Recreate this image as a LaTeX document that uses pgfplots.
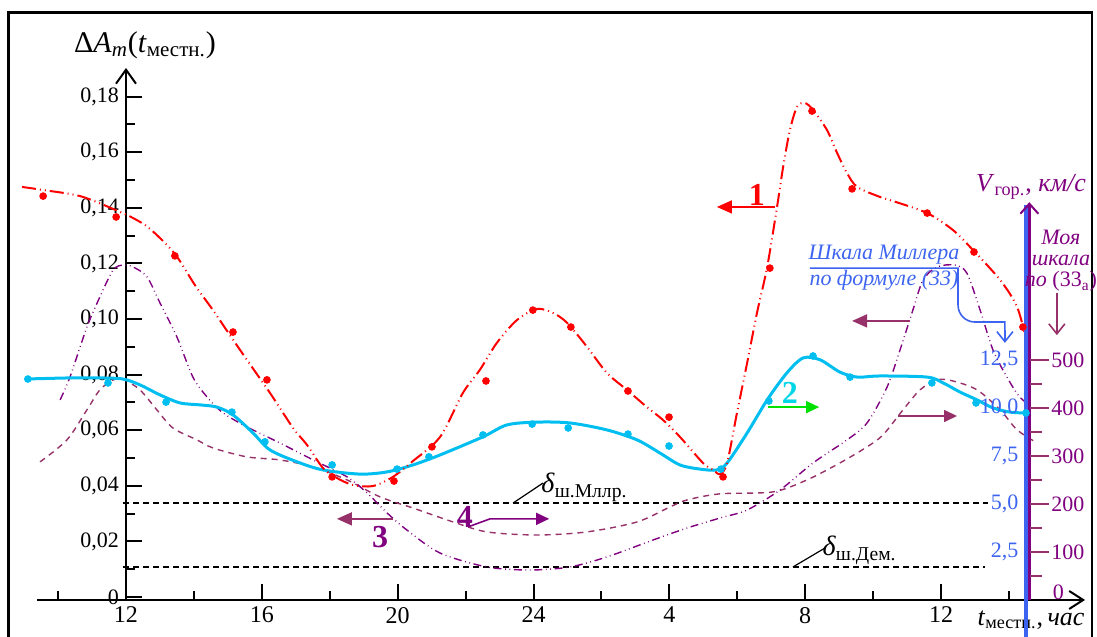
\documentclass[border=0pt]{standalone}
\usepackage{pgfplots}
\pgfplotsset{compat=1.18}
\usetikzlibrary{arrows.meta}
\usepackage{fontspec}
\setmainfont{Liberation Serif}

\definecolor{curveRed}{RGB}{255,0,0}
\definecolor{curveCyan}{RGB}{0,190,240}
\definecolor{labelCyan}{RGB}{0,215,230}
\definecolor{curvePurple}{RGB}{128,0,128}
\definecolor{curveMaroon}{RGB}{150,50,105}
\definecolor{scaleBlue}{RGB}{60,100,240}
\definecolor{arrowGreen}{RGB}{0,225,0}

% hours after local noon (0 = 12 h, 12 = 24 h, 16 = 4 h, ...)
\pgfplotstableread{
u v
-3.06 0.1475
-2.44 0.1464
-1.35 0.1442
-0.38 0.1396
0.21 0.1363
0.71 0.1324
1.44 0.1234
2.03 0.1122
2.56 0.1032
3.06 0.0942
3.56 0.0853
4.24 0.0734
4.92 0.0608
5.33 0.0547
5.80 0.0464
6.21 0.0428
6.68 0.0403
7.27 0.0399
7.86 0.0432
8.45 0.0489
9.25 0.0576
9.92 0.0734
10.42 0.0817
10.92 0.0914
11.51 0.0996
12.10 0.1036
12.57 0.1022
12.99 0.0986
13.58 0.0899
14.16 0.0806
14.75 0.0745
15.34 0.0683
15.81 0.0637
16.31 0.0576
16.99 0.0482
17.29 0.0457
17.49 0.0442
17.70 0.0482
17.99 0.0662
18.29 0.0842
18.58 0.1022
18.88 0.1187
19.17 0.1403
19.35 0.1547
19.55 0.1680
19.76 0.1763
19.99 0.1777
20.23 0.1752
20.64 0.1680
20.94 0.1597
21.23 0.1525
21.53 0.1475
22.20 0.1439
22.59 0.1424
23.59 0.1381
24.35 0.1320
24.94 0.1248
25.74 0.1140
26.24 0.1043
26.53 0.0914
}\curveOne

\pgfplotstableread{
u v
-2.44 0.1442
-0.29 0.1367
1.44 0.1227
3.15 0.0953
4.15 0.0781
6.07 0.0432
7.89 0.0417
9.01 0.0540
10.60 0.0777
11.98 0.1032
13.10 0.0971
14.78 0.0741
15.99 0.0647
17.58 0.0432
18.96 0.1183
20.20 0.1748
21.38 0.1468
23.59 0.1381
24.97 0.1241
26.41 0.0971
}\pointsOne

\pgfplotstableread{
u v
-2.97 0.0784
-1.65 0.0788
-0.77 0.0788
-0.09 0.0784
0.41 0.0763
1.00 0.0727
1.59 0.0698
2.18 0.0691
2.68 0.0683
3.15 0.0655
3.74 0.0590
4.24 0.0529
5.04 0.0486
5.80 0.0457
6.89 0.0442
7.69 0.0450
8.45 0.0475
9.25 0.0511
10.51 0.0576
11.22 0.0619
12.10 0.0629
13.07 0.0626
14.16 0.0601
15.05 0.0565
15.72 0.0518
16.31 0.0475
16.90 0.0460
17.40 0.0457
17.70 0.0482
18.29 0.0590
18.88 0.0709
19.46 0.0806
19.94 0.0860
20.44 0.0853
21.02 0.0809
21.53 0.0791
22.20 0.0795
23.59 0.0791
24.06 0.0770
24.56 0.0737
25.06 0.0709
25.53 0.0680
26.03 0.0665
26.47 0.0662
}\curveTwo

\pgfplotstableread{
u v
-2.89 0.0784
-0.53 0.0770
1.18 0.0701
3.12 0.0665
4.09 0.0558
6.07 0.0475
7.98 0.0460
8.92 0.0504
10.51 0.0583
11.96 0.0622
13.02 0.0608
14.78 0.0586
15.99 0.0543
17.52 0.0460
18.93 0.0705
20.23 0.0867
21.32 0.0791
23.73 0.0770
25.03 0.0698
26.50 0.0662
}\pointsTwo

\pgfplotstableread{
u v
-1.94 0.0709
-1.65 0.0791
-1.15 0.0971
-0.77 0.1079
-0.38 0.1176
-0.09 0.1194
0.21 0.1187
0.62 0.1151
1.00 0.1058
1.50 0.0935
1.97 0.0791
2.39 0.0719
2.86 0.0662
3.56 0.0612
4.53 0.0554
5.51 0.0493
6.51 0.0432
7.10 0.0374
7.69 0.0302
8.27 0.0241
9.25 0.0158
10.63 0.0108
11.90 0.0097
13.07 0.0108
14.16 0.0144
15.52 0.0205
16.52 0.0248
17.49 0.0284
18.29 0.0313
19.26 0.0385
20.23 0.0482
21.23 0.0565
21.82 0.0626
22.41 0.0755
22.79 0.0888
23.17 0.1032
23.47 0.1140
23.88 0.1187
24.41 0.1194
24.76 0.1165
25.15 0.1032
25.53 0.0888
25.94 0.0791
26.32 0.0719
26.80 0.0673
}\curveThree

\pgfplotstableread{
u v
-2.53 0.0486
-1.74 0.0565
-1.15 0.0673
-0.77 0.0745
-0.38 0.0781
-0.09 0.0784
0.41 0.0745
0.91 0.0673
1.38 0.0608
2.09 0.0565
2.56 0.0536
3.56 0.0504
4.53 0.0493
5.51 0.0468
6.51 0.0421
7.48 0.0360
8.45 0.0320
9.63 0.0270
10.63 0.0234
12.10 0.0223
13.57 0.0234
15.05 0.0270
16.02 0.0324
16.52 0.0349
17.49 0.0371
19.05 0.0378
20.05 0.0421
21.02 0.0482
21.82 0.0540
22.29 0.0583
22.88 0.0673
23.38 0.0745
23.88 0.0781
24.35 0.0777
25.06 0.0745
25.74 0.0673
26.24 0.0601
26.83 0.0554
}\curveFour

\begin{document}
\begin{tikzpicture}[
  bigarrow/.style={-{Triangle[length=7.5pt,width=6.5pt]}, line width=0.8pt},
  openarrow/.style={-{Straight Barb[length=5pt,width=8pt,line width=0.8pt]}},
  numlabel/.style={font=\fontsize{16}{18}\selectfont\bfseries, inner sep=0pt},
]
\begin{axis}[
  scale only axis, width=524.0pt, height=266.0pt,
  xmin=-2.62, xmax=28.24, ymin=-0.00108, ymax=0.1903,
  clip=false,
  axis x line=bottom, axis y line=middle,
  axis line style={line width=1.1pt},
  x axis line style={-{Straight Barb[length=7pt,width=9pt,line width=1pt]}},
  y axis line style={-{Straight Barb[length=7pt,width=10pt,line width=1pt]}},
  xtick={0,4,8,12,16,20,24}, xticklabels={12,16,20,24,4,8,12},
  minor xtick={-2,2,6,10,14,18,22,26},
  ytick={0,0.02,0.04,0.06,0.08,0.10,0.12,0.14,0.16,0.18},
  yticklabels={0,{0,02},{0,04},{0,06},{0,08},{0,10},{0,12},{0,14},{0,16},{0,18}},
  minor ytick={0.01,0.03,0.05,0.07,0.09,0.11,0.13,0.15,0.17},
  tick align=inside,
  major tick length=8pt, minor tick length=4.5pt,
  tick style={black, line width=1pt},
  hide obscured x ticks=false, hide obscured y ticks=false,
  xticklabel style={font=\fontsize{12}{14}\selectfont},
  yticklabel style={font=\fontsize{11}{13}\selectfont},
]

% shear-threshold levels
\addplot[black, line width=0.6pt, dash pattern=on 3pt off 2pt] coordinates {(-0.09,0.0338) (25.38,0.0338)};
\addplot[black, line width=0.6pt, dash pattern=on 3pt off 2pt] coordinates {(-0.09,0.0108) (25.29,0.0108)};

% curve 4
\addplot[curveMaroon, line width=0.7pt, smooth, dash pattern=on 3pt off 2.5pt] table[x=u,y=v] {\curveFour};
% curve 3
\addplot[curvePurple, line width=0.7pt, smooth, dash pattern=on 4pt off 1.8pt on 0.4pt off 1.8pt on 0.4pt off 1.8pt] table[x=u,y=v] {\curveThree};
% curve 2
\addplot[curveCyan, line width=1.5pt, smooth] table[x=u,y=v] {\curveTwo};
\addplot[only marks, mark=*, mark size=1.7pt, curveCyan] table[x=u,y=v] {\pointsTwo};
% curve 1
\addplot[curveRed, line width=1pt, smooth, dash pattern=on 7pt off 2pt on 0.5pt off 2pt on 0.5pt off 2pt] table[x=u,y=v] {\curveOne};
\addplot[only marks, mark=*, mark size=1.7pt, curveRed] table[x=u,y=v] {\pointsOne};

% frame
\draw[line width=1.4pt] (-3.454,-0.0144) -- (-3.454,0.21036) -- (28.445,0.21036) -- (28.445,-0.0144);

% axis titles
\node[font=\fontsize{15}{18}\selectfont, inner sep=0pt] at (0.56,0.1986)
  {Δ\textit{A}\textsubscript{\textit{m}}(\textit{t}\textsubscript{местн.})};
\node[font=\fontsize{13}{15}\selectfont, inner sep=0pt] at (26.65,-0.0082)
  {\textit{t}\textsubscript{местн.},\,\textit{час}};

% curve numbers and their arrows
\draw[curveRed, bigarrow] (19.11,0.1403) -- (17.40,0.1403);
\node[numlabel, curveRed] at (18.58,0.1446) {1};
\draw[arrowGreen, -{Triangle[length=6.5pt,width=6pt]}, line width=0.8pt] (18.90,0.0683) -- (20.41,0.0683);
\node[numlabel, labelCyan] at (19.55,0.0734) {2};
\draw[curveMaroon, bigarrow] (7.86,0.0281) -- (6.21,0.0281);
\node[numlabel, curvePurple] at (7.48,0.0216) {3};
\draw[curvePurple, -{Triangle[length=6.5pt,width=6pt]}, line width=0.8pt] (10.07,0.0252) -- (10.72,0.0281) -- (12.46,0.0281);
\node[numlabel, curvePurple] at (9.98,0.0288) {4};
\draw[curveMaroon, bigarrow] (23.09,0.0993) -- (21.38,0.0993);
\draw[curveMaroon, -{Triangle[length=6.5pt,width=6pt]}, line width=0.8pt] (22.73,0.0651) -- (24.47,0.0651);

% threshold labels
\draw[black, line width=0.6pt] (11.40,0.0338) -- (12.28,0.0410);
\node[anchor=west, inner sep=0pt, font=\fontsize{14}{16}\selectfont] at (12.22,0.0395)
  {\textit{δ}\textsubscript{ш.Мллр.}};
\draw[black, line width=0.6pt] (19.64,0.0108) -- (20.58,0.0176);
\node[anchor=west, inner sep=0pt, font=\fontsize{14}{16}\selectfont] at (20.50,0.0168)
  {\textit{δ}\textsubscript{ш.Дем.}};

% right-hand velocity scale
\draw[scaleBlue, line width=2pt] (26.49,-0.0144) -- (26.49,0.1410);
\draw[curvePurple, line width=1.4pt, -{Straight Barb[length=5pt,width=9pt,line width=1pt]}] (26.60,-0.00108) -- (26.60,0.1420);
\pgfplotsinvokeforeach{50,150,250,350,450}{
  \draw[curveMaroon, line width=1pt] (26.62,{(0.48*#1-3)/2780}) -- (26.97,{(0.48*#1-3)/2780});
}
\pgfplotsinvokeforeach{100,200,300,400,500}{
  \draw[curveMaroon, line width=1pt] (26.62,{(0.48*#1-3)/2780}) -- (27.18,{(0.48*#1-3)/2780});
}
\node[anchor=west, inner sep=1pt, text=curvePurple, font=\fontsize{11}{13}\selectfont] at (27.22,0.0018) {0};
\node[anchor=west, inner sep=1pt, text=curvePurple, font=\fontsize{11}{13}\selectfont] at (27.18,{(0.48*100-3)/2780}) {100};
\node[anchor=west, inner sep=1pt, text=curvePurple, font=\fontsize{11}{13}\selectfont] at (27.18,{(0.48*200-3)/2780}) {200};
\node[anchor=west, inner sep=1pt, text=curvePurple, font=\fontsize{11}{13}\selectfont] at (27.18,{(0.48*300-3)/2780}) {300};
\node[anchor=west, inner sep=1pt, text=curvePurple, font=\fontsize{11}{13}\selectfont] at (27.18,{(0.48*400-3)/2780}) {400};
\node[anchor=west, inner sep=1pt, text=curvePurple, font=\fontsize{11}{13}\selectfont] at (27.18,{(0.48*500-3)/2780}) {500};
\node[anchor=east, inner sep=1pt, text=scaleBlue, font=\fontsize{11}{13}\selectfont] at (26.35,{(0.48*100-3)/2780}) {2,5};
\node[anchor=east, inner sep=1pt, text=scaleBlue, font=\fontsize{11}{13}\selectfont] at (26.35,{(0.48*200-3)/2780}) {5,0};
\node[anchor=east, inner sep=1pt, text=scaleBlue, font=\fontsize{11}{13}\selectfont] at (26.35,{(0.48*300-3)/2780}) {7,5};
\node[anchor=east, inner sep=1pt, text=scaleBlue, font=\fontsize{11}{13}\selectfont] at (26.35,{(0.48*400-3)/2780}) {10,0};
\node[anchor=east, inner sep=1pt, text=scaleBlue, font=\fontsize{11}{13}\selectfont] at (26.35,{(0.48*500-3)/2780}) {12,5};

\node[inner sep=0pt, text=curvePurple, font=\fontsize{13}{15}\selectfont] at (26.65,0.1475)
  {\textit{V}\textsubscript{гор.}, \textit{км/с}};
\node[inner sep=0pt, align=center, text=curvePurple, font=\fontsize{11}{10.5}\selectfont] at (27.53,0.1209)
  {\textit{Моя}\\\textit{шкала}\\\textit{по} (33\textsubscript{а})};
\draw[curveMaroon, line width=0.7pt, openarrow] (27.41,0.1094) -- (27.41,0.0942);

% Miller scale note
\node[inner sep=0pt, text=scaleBlue, font=\fontsize{11}{13}\selectfont\itshape] at (22.32,0.1232) {Шкала Миллера};
\node[inner sep=0pt, text=scaleBlue, font=\fontsize{11}{13}\selectfont\itshape] at (22.32,0.1138) {по формуле (33)};
\draw[scaleBlue, line width=0.8pt] (20.14,0.1183) -- (24.50,0.1183) -- (24.50,0.1050)
  to[out=-90,in=180] (25.0,0.0989) -- (25.88,0.0989) -- (25.88,0.0940);
\draw[scaleBlue, line width=0.8pt, openarrow] (25.88,0.0960) -- (25.88,0.0914);

\coordinate (bbsw) at (-3.710,-0.014388);
\coordinate (bbne) at (28.592,0.21475);
\end{axis}
\pgfresetboundingbox
\useasboundingbox (bbsw) rectangle (bbne);
\end{tikzpicture}
\end{document}
